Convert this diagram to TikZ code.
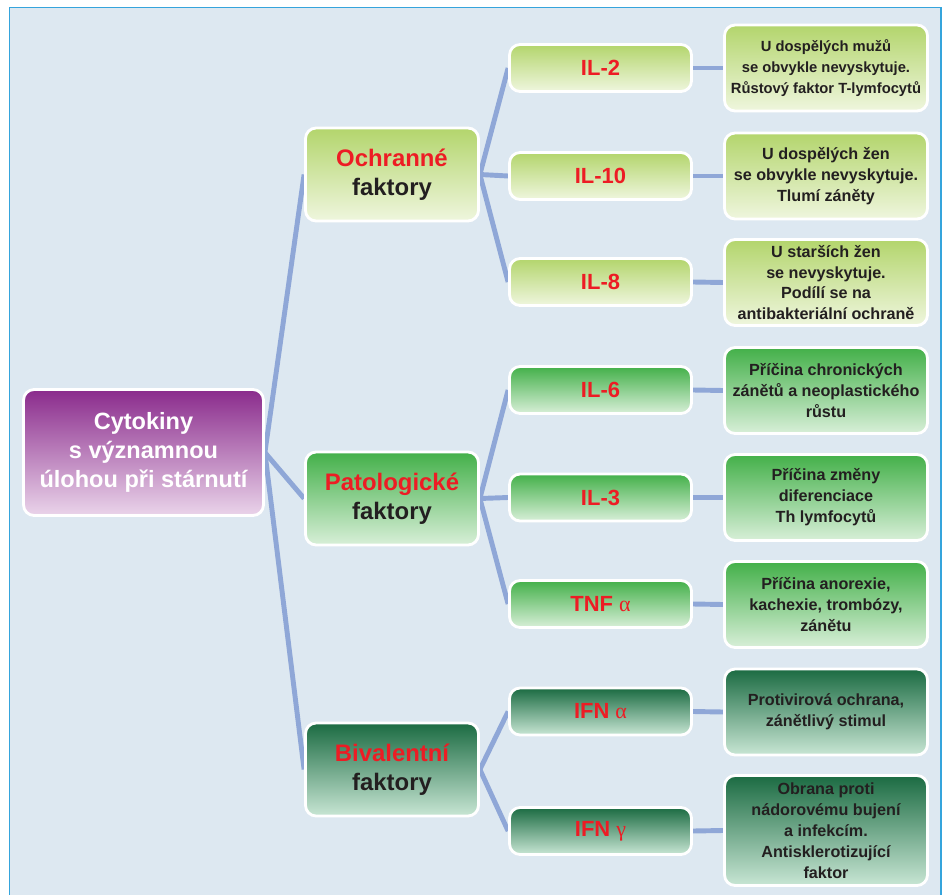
\documentclass[tikz,border=0pt]{standalone}
\usepackage{fontspec}
\setmainfont{Liberation Sans}
\newfontfamily\greekfont{Liberation Serif}
\usetikzlibrary{positioning}

\pgfdeclarelayer{backdrop}
\pgfdeclarelayer{links}
\pgfsetlayers{backdrop,links,main}

\definecolor{bgblue}{HTML}{DDE8F1}
\definecolor{framecol}{HTML}{35A4DC}
\definecolor{linkblue}{HTML}{8FA7D7}
\definecolor{redtxt}{HTML}{ED1C24}
\definecolor{darktxt}{HTML}{231F20}
\definecolor{purpletop}{HTML}{8A2B8C}
\definecolor{purplebot}{HTML}{EAD4EA}
\definecolor{limetop}{HTML}{B3D56C}
\definecolor{limebot}{HTML}{EFF6DE}
\definecolor{greentop}{HTML}{43B049}
\definecolor{greenbot}{HTML}{D8EFD8}
\definecolor{pinetop}{HTML}{1B6B42}
\definecolor{pinebot}{HTML}{C8E6D4}

\newcommand{\grk}[1]{{\greekfont\mdseries #1}}

\begin{document}
\begin{tikzpicture}[
    x=0.02cm, y=-0.02cm,
    box/.style={
        draw=white,
        line width=1.6pt,
        rounded corners=6pt,
        align=center,
        inner sep=2pt,
        text=darktxt
    },
    rootbox/.style={box, top color=purpletop, bottom color=purplebot,
        text=white, minimum width=4.8cm, minimum height=2.52cm,
        font=\fontsize{13.4}{16.7}\selectfont\bfseries},
    groupbox/.style={box, minimum width=3.46cm, minimum height=1.86cm,
        font=\fontsize{13.6}{16.4}\selectfont\bfseries},
    cytobox/.style={box, minimum width=3.64cm, minimum height=0.94cm,
        text=redtxt, font=\fontsize{12.5}{15}\selectfont\bfseries},
    notebox/.style={box, minimum width=4.06cm, minimum height=1.72cm,
        font=\fontsize{9.2}{11.9}\selectfont\bfseries},
    lime/.style={top color=limetop, bottom color=limebot},
    green/.style={top color=greentop, bottom color=greenbot},
    pine/.style={top color=pinetop, bottom color=pinebot},
    link/.style={draw=linkblue, line width=2.8pt}
]

    \useasboundingbox (0,0) rectangle (946,895);

    % Background and frame
    \begin{pgfonlayer}{backdrop}
        \fill[white] (0,0) rectangle (946,895);
        \fill[bgblue] (9.5,7.5) rectangle (941,895);
        \draw[framecol, line width=1.1pt]
            (9.5,895) -- (9.5,7.5) -- (941,7.5) -- (941,895);
    \end{pgfonlayer}

    % Root
    \node[rootbox] (root) at (143.5,452.5)
        {Cytokiny\\ s významnou\\ úlohou při stárnutí};

    % Groups
    \node[groupbox, lime] (ochr) at (392,174.5)
        {{\color{redtxt}Ochranné}\\ faktory};
    \node[groupbox, green] (pato) at (392,498.5)
        {{\color{redtxt}Patologické}\\ faktory};
    \node[groupbox, pine] (biva) at (392,769.5)
        {{\color{redtxt}Bivalentní}\\ faktory};

    % Cytokines
    \node[cytobox, lime] (il2) at (600.5,68) {IL-2};
    \node[cytobox, lime] (il10) at (600.5,176) {IL-10};
    \node[cytobox, lime] (il8) at (600.5,282) {IL-8};
    \node[cytobox, green] (il6) at (600.5,390) {IL-6};
    \node[cytobox, green] (il3) at (600.5,497.5) {IL-3};
    \node[cytobox, green] (tnf) at (600.5,604) {TNF \grk{α}};
    \node[cytobox, pine] (ifna) at (600.5,711.5) {IFN \grk{α}};
    \node[cytobox, pine] (ifng) at (600.5,831) {IFN \grk{γ}};

    % Notes
    \node[notebox, lime, font=\fontsize{8.4}{12}\selectfont\bfseries]
        (n2) at (826,68)
        {U dospělých mužů\\ se obvykle nevyskytuje.\\ Růstový faktor T-lymfocytů};
    \node[notebox, lime] (n10) at (826,176)
        {U dospělých žen\\ se obvykle nevyskytuje.\\ Tlumí záněty};
    \node[notebox, lime] (n8) at (826,282.5)
        {U starších žen\\ se nevyskytuje.\\ Podílí se na\\ antibakteriální ochraně};
    \node[notebox, green] (n6) at (826,390.5)
        {Příčina chronických\\ zánětů a neoplastického\\ růstu};
    \node[notebox, green] (n3) at (826,497.5)
        {Příčina změny\\ diferenciace\\ Th lymfocytů};
    \node[notebox, green] (ntnf) at (826,604.5)
        {Příčina anorexie,\\ kachexie, trombózy,\\ zánětu};
    \node[notebox, pine] (nifna) at (826,712)
        {Protivirová ochrana,\\ zánětlivý stimul};
    \node[notebox, pine, minimum height=2.2cm] (nifng) at (826,830.5)
        {Obrana proti\\ nádorovému bujení\\ a infekcím.\\ Antisklerotizující\\ faktor};

    % Links
    \begin{pgfonlayer}{links}
        \foreach \g in {ochr,pato,biva}
            \draw[link] (root.east) -- (\g.west);
        \foreach \c in {il2,il10,il8}
            \draw[link] (ochr.east) -- (\c.west);
        \foreach \c in {il6,il3,tnf}
            \draw[link] (pato.east) -- (\c.west);
        \foreach \c in {ifna,ifng}
            \draw[link] (biva.east) -- (\c.west);
        \foreach \c/\n in {il2/n2,il10/n10,il8/n8,il6/n6,il3/n3,tnf/ntnf,ifna/nifna,ifng/nifng}
            \draw[link] (\c.east) -- (\n.west);
    \end{pgfonlayer}

\end{tikzpicture}
\end{document}
